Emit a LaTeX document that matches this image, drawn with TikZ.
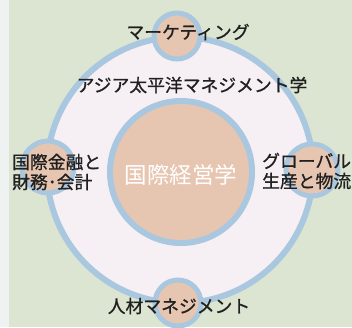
\documentclass[tikz,border=0pt]{standalone}
\usepackage{fontspec}
\setmainfont{Noto Sans CJK JP}
\newfontfamily\jpmed{Noto Sans CJK JP}[FakeBold=0.9]
\usetikzlibrary{calc}

\definecolor{bggreen}{HTML}{DCE5D1}
\definecolor{ringfill}{HTML}{F6EFF4}
\definecolor{peach}{HTML}{E7C6B1}
\definecolor{ringblue}{HTML}{A9C7DE}
\definecolor{txtgray}{HTML}{202020}
\definecolor{stripgray}{HTML}{EEF2F0}

\begin{document}
\begin{tikzpicture}[x=1pt, y=-1pt,
    label/.style = {text=txtgray, inner sep=0pt, font=\jpmed\fontsize{17.8pt}{20pt}\selectfont},
    small/.style = {fill=peach, draw=ringblue, line width=5pt}]
  % Sfondo
  \useasboundingbox (0,0) rectangle (352,327);
  \fill[bggreen] (0,0) rectangle (352,327);
  \fill[stripgray] (0,0) rectangle (9,327);

  % Centro dell'anello
  \coordinate (O) at (180,170);

  % Anello grande
  \draw[fill=ringfill, draw=ringblue, line width=6pt] (O) circle (133);

  % Cerchi piccoli sull'anello
  \coordinate (N) at ($(O)+(-3,-134)$);
  \coordinate (W) at ($(O)+(-132,-3)$);
  \coordinate (E) at ($(O)+(132,0)$);
  \coordinate (S) at ($(O)+(-2,133)$);
  \draw[small] (N) circle (23);
  \draw[small] (W) circle (26);
  \draw[small] (E) circle (26);
  \draw[small] (S) circle (23);

  % Cerchio centrale
  \draw[fill=peach, draw=ringblue, line width=6pt] (181,172) circle (71);

  % Testi
  \node[label] (marketing) at (188,32) {マーケティング};
  \node[label] (asia) at (192,85) {アジア太平洋マネジメント学};
  \node[label, anchor=west, align=left] (finance) at (12,172) {国際金融と\\財務･会計};
  \node[label, anchor=west, align=left] (global) at (262,171) {グローバル\\生産と物流};
  \node[label] (hr) at (179,306) {人材マネジメント};
  \node[text=white, inner sep=0pt, font=\fontsize{22.5pt}{24pt}\selectfont] (ib) at (181,175) {国際経営学};
\end{tikzpicture}
\end{document}
